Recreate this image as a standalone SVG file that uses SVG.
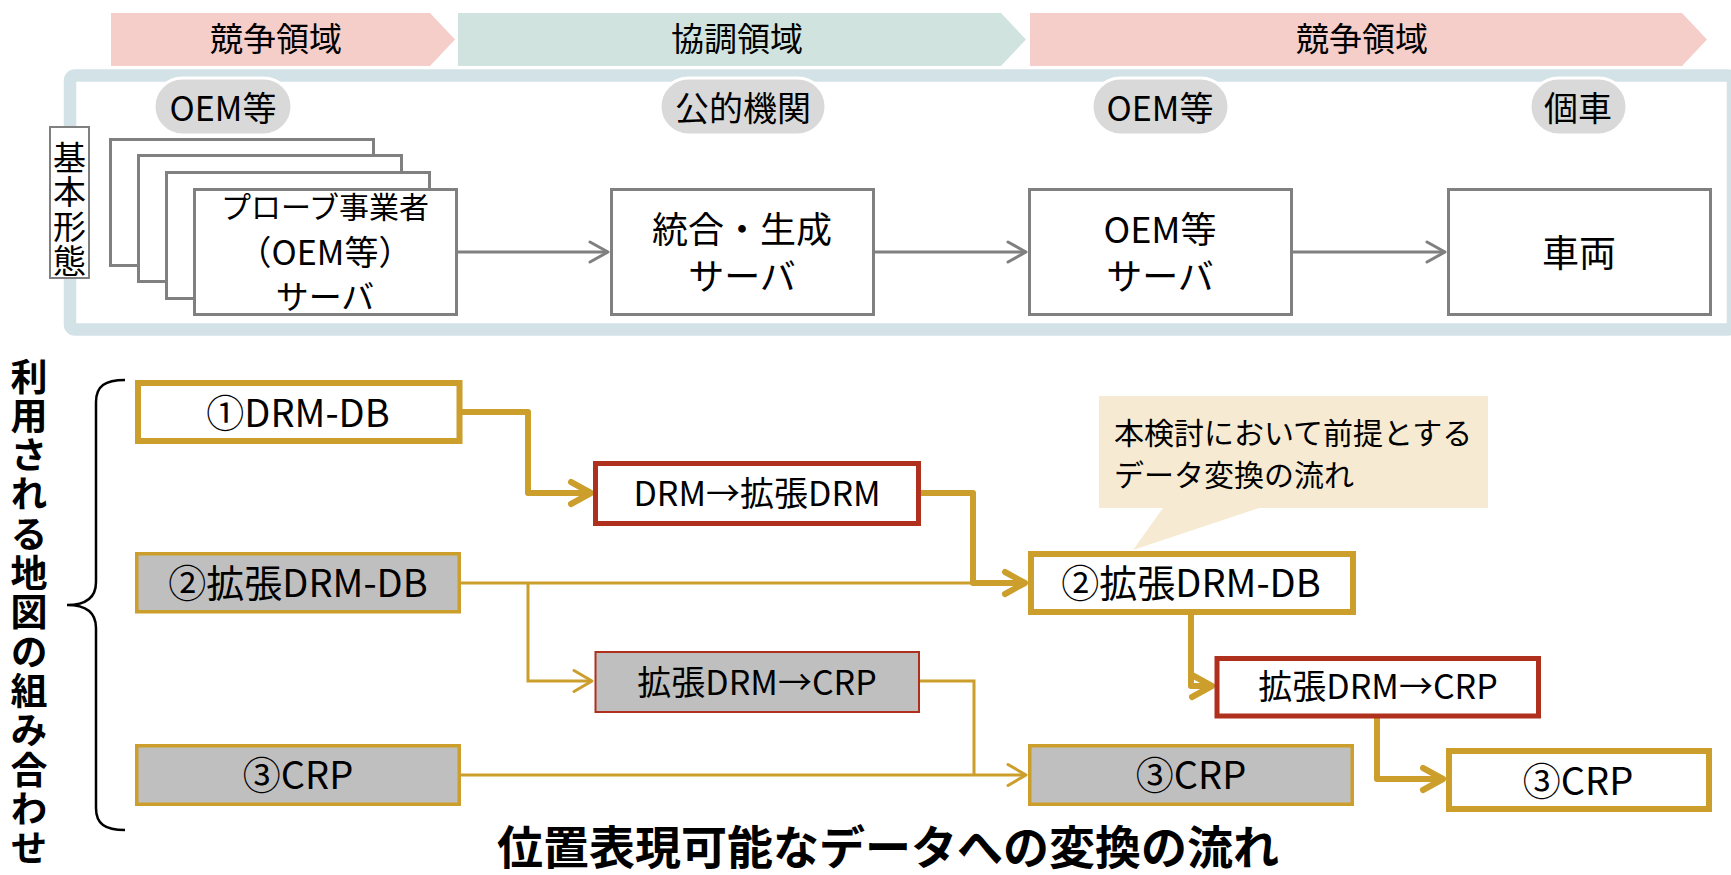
<svg xmlns="http://www.w3.org/2000/svg" width="1731" height="875" viewBox="0 0 1731 875">
<defs>
<style>
text{font-family:"Noto Sans CJK JP","Noto Sans",sans-serif;fill:#000;}
.c{text-anchor:middle;}
.band{font-size:33px;}
.pilltx{font-size:34px;}
.vert{writing-mode:vertical-rl;text-anchor:start;}
.srv{fill:#fff;stroke:#808080;stroke-width:3;}
.pill{fill:#D9D9D9;stroke:#fff;stroke-width:3;}
.gthick{fill:#fff;stroke:#CC9E2B;stroke-width:6;}
.gthin{fill:#BFBFBF;stroke:#CC9E2B;stroke-width:3.5;}
.rthick{fill:#fff;stroke:#B0301E;stroke-width:5;}
.rthin{fill:#BFBFBF;stroke:#B0301E;stroke-width:2;}
.big{font-size:38px;}
.mid{font-size:34px;}
.lnGray{fill:none;stroke:#808080;stroke-width:3;}
.lnThick{fill:none;stroke:#CC9E2B;stroke-width:6;stroke-linejoin:round;}
.lnThin{fill:none;stroke:#CC9E2B;stroke-width:3;}
</style>
<marker id="ahGray" markerUnits="userSpaceOnUse" orient="auto" overflow="visible" refX="0" refY="0" markerWidth="1" markerHeight="1">
<path d="M-18,-10 L0,0 L-18,10" fill="none" stroke="#808080" stroke-width="3" stroke-linecap="round" stroke-linejoin="round"/>
</marker>
<marker id="ahThick" markerUnits="userSpaceOnUse" orient="auto" overflow="visible" refX="0" refY="0" markerWidth="1" markerHeight="1">
<path d="M-20,-11 L0,0 L-20,11" fill="none" stroke="#CC9E2B" stroke-width="6" stroke-linecap="round" stroke-linejoin="round"/>
</marker>
<marker id="ahThin" markerUnits="userSpaceOnUse" orient="auto" overflow="visible" refX="0" refY="0" markerWidth="1" markerHeight="1">
<path d="M-18,-10.5 L0,0 L-18,10.5" fill="none" stroke="#CC9E2B" stroke-width="3" stroke-linecap="round" stroke-linejoin="round"/>
</marker>
</defs>

<!-- domain bands -->
<g id="band1"><polygon points="111,13 430,13 455,39.5 430,66 111,66" fill="#F5CDC9"/><text class="c band" x="276" y="51">競争領域</text></g>
<g id="band2"><polygon points="458,13 1001,13 1026,39.5 1001,66 458,66" fill="#D0E3DE"/><text class="c band" x="737" y="51">協調領域</text></g>
<g id="band3"><polygon points="1030,13 1682,13 1707,39.5 1682,66 1030,66" fill="#F5CDC9"/><text class="c band" x="1362" y="51">競争領域</text></g>

<!-- frame -->
<g id="frame"><rect x="70" y="75.5" width="1663" height="254" rx="5" fill="#fff" stroke="#D2E2E6" stroke-width="12.5"/></g>

<!-- pills -->
<g id="pill1"><rect class="pill" x="154" y="78" width="138" height="57" rx="28.5"/><text class="c pilltx" x="223" y="121">OEM等</text></g>
<g id="pill2"><rect class="pill" x="660" y="78" width="166" height="57" rx="28.5"/><text class="c pilltx" x="743" y="121">公的機関</text></g>
<g id="pill3"><rect class="pill" x="1092" y="78" width="137" height="57" rx="28.5"/><text class="c pilltx" x="1160" y="121">OEM等</text></g>
<g id="pill4"><rect class="pill" x="1530" y="78" width="97" height="57" rx="28.5"/><text class="c pilltx" x="1578" y="121">個車</text></g>

<!-- basic form label -->
<g id="kihon"><rect x="50" y="127" width="39" height="151" fill="#fff" stroke="#808080" stroke-width="2"/>
<text class="vert" style="font-size:33px;letter-spacing:1.3px" x="69.5" y="141">基本形態</text></g>

<!-- probe servers stack -->
<g id="probe">
<rect class="srv" x="110.5" y="139.5" width="263" height="126"/>
<rect class="srv" x="138.5" y="155.5" width="263" height="126"/>
<rect class="srv" x="166.5" y="172.5" width="263" height="126"/>
<rect class="srv" x="194.5" y="189.5" width="262" height="125"/>
<text class="c" style="font-size:30px" x="325"><tspan x="325" y="218">プローブ事業者</tspan><tspan x="325" y="265" style="font-size:34px">（OEM等）</tspan><tspan x="325" y="309" style="font-size:33px">サーバ</tspan></text>
</g>
<g id="togo"><rect class="srv" x="611.5" y="189.5" width="262" height="125"/><text class="c" style="font-size:36px" x="742"><tspan x="742" y="243">統合・生成</tspan><tspan x="742" y="290">サーバ</tspan></text></g>
<g id="oemsrv"><rect class="srv" x="1029.5" y="189.5" width="262" height="125"/><text class="c" style="font-size:36px" x="1160"><tspan x="1160" y="243">OEM等</tspan><tspan x="1160" y="290">サーバ</tspan></text></g>
<g id="sharyo"><rect class="srv" x="1448.5" y="189.5" width="262" height="125"/><text class="c" style="font-size:37px" x="1579" y="267">車両</text></g>

<!-- bottom left label and brace -->
<g id="riyou"><text class="vert" style="font-size:37px;font-weight:bold;letter-spacing:2.3px" x="29" y="358">利用される地図の組み合わせ</text></g>
<g id="brace"><path d="M125,380 C105,380 96,386 96,402 V582 C96,597 86,605 67,605 C86,605 96,613 96,628 V808 C96,824 105,830 125,830" fill="none" stroke="#000" stroke-width="2.5"/></g>

<!-- connectors -->
<g id="connectors">
<path class="lnGray" d="M458,252 H608" marker-end="url(#ahGray)"/>
<path class="lnGray" d="M875,252 H1026" marker-end="url(#ahGray)"/>
<path class="lnGray" d="M1293,252 H1445" marker-end="url(#ahGray)"/>
<path class="lnThin" d="M460,583 H974"/>
<path class="lnThin" d="M528,583 V681 H592" marker-end="url(#ahThin)"/>
<path class="lnThin" d="M920,681 H974 V775"/>
<path class="lnThin" d="M461,775 H1026" marker-end="url(#ahThin)"/>
<path class="lnThick" d="M462,412 H528 V493 H591" marker-end="url(#ahThick)"/>
<path class="lnThick" d="M921,493 H973 V583 H1025" marker-end="url(#ahThick)"/>
<path class="lnThick" d="M1191,615 V686 H1212" marker-end="url(#ahThick)"/>
<path class="lnThick" d="M1377,718 V779 H1443" marker-end="url(#ahThick)"/>
</g>

<!-- bottom nodes -->
<g id="drmdb1"><rect class="gthick" x="138" y="383" width="321.5" height="58"/><text class="c big" x="298" y="427">①DRM-DB</text></g>
<g id="conv1"><rect class="rthick" x="595.5" y="463.5" width="323" height="60"/><text class="c mid" x="757" y="505.5">DRM→拡張DRM</text></g>
<g id="drmdb2L"><rect class="gthin" x="136.75" y="553.75" width="322.5" height="58"/><text class="c big" x="298" y="597">②拡張DRM-DB</text></g>
<g id="conv2L"><rect class="rthin" x="595.5" y="652" width="323.5" height="60"/><text class="c mid" x="757" y="694.5">拡張DRM→CRP</text></g>
<g id="crpL"><rect class="gthin" x="136.75" y="745.75" width="322.5" height="58.5"/><text class="c big" x="298" y="789">③CRP</text></g>
<g id="drmdb2R"><rect class="gthick" x="1031" y="554" width="322" height="58"/><text class="c big" x="1191" y="597">②拡張DRM-DB</text></g>
<g id="conv2R"><rect class="rthick" x="1217" y="658.5" width="321.5" height="57.5"/><text class="c mid" x="1378" y="699">拡張DRM→CRP</text></g>
<g id="crpM"><rect class="gthin" x="1029.75" y="745.75" width="322.5" height="58.5"/><text class="c big" x="1191" y="789">③CRP</text></g>
<g id="crpR"><rect class="gthick" x="1449" y="751" width="260" height="58"/><text class="c big" x="1578" y="795">③CRP</text></g>

<!-- callout -->
<g id="callout"><path d="M1099,396 H1488 V508 H1259 L1133,550 L1163,508 H1099 Z" fill="#F6EBD2"/>
<text style="font-size:30px" x="1114"><tspan x="1114" y="444">本検討において前提とする</tspan><tspan x="1114" y="486">データ変換の流れ</tspan></text></g>

<!-- title -->
<g id="title"><text class="c" style="font-size:46px;font-weight:bold" x="888" y="864">位置表現可能なデータへの変換の流れ</text></g>
</svg>
